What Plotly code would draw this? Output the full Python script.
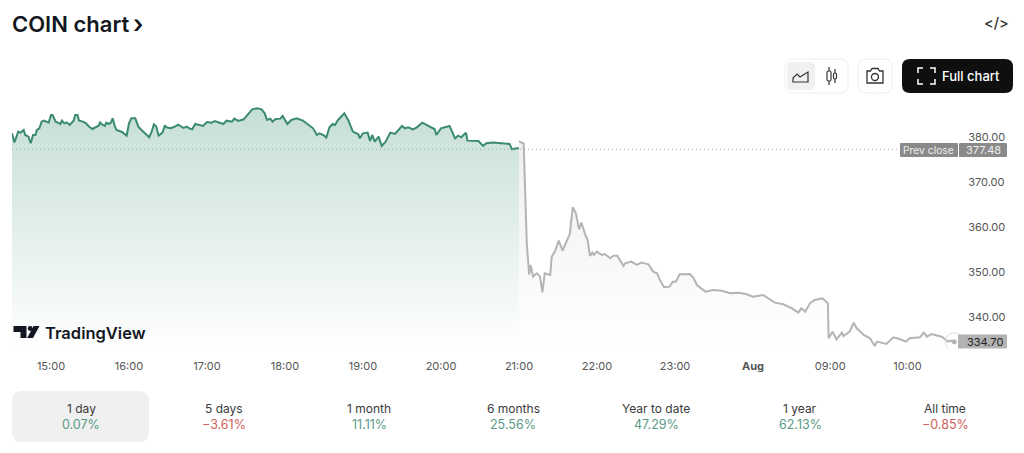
import plotly.graph_objects as go

# hours counted from midnight of the previous day (24 = Aug 1st 00:00 on the compressed axis)
session_hours = [14.50,14.53,14.55,14.58,14.61,14.65,14.67,14.71,14.74,14.77,14.80,14.82,14.85,14.88,14.91,14.97,15.00,15.02,15.06,15.12,15.14,15.17,15.20,15.24,15.29,15.31,15.34,15.36,15.41,15.45,15.48,15.53,15.61,15.63,15.65,15.69,15.71,15.74,15.77,15.79,15.82,15.84,15.91,15.97,16.00,16.03,16.08,16.12,16.16,16.21,16.26,16.29,16.32,16.35,16.38,16.43,16.46,16.48,16.53,16.57,16.63,16.70,16.74,16.78,16.81,16.85,16.91,16.95,17.00,17.06,17.10,17.17,17.21,17.25,17.32,17.35,17.40,17.47,17.53,17.58,17.64,17.70,17.74,17.77,17.81,17.84,17.88,17.94,17.97,18.03,18.08,18.15,18.23,18.30,18.36,18.41,18.44,18.49,18.53,18.57,18.61,18.64,18.68,18.76,18.81,18.87,18.94,18.96,19.00,19.06,19.09,19.12,19.15,19.20,19.24,19.29,19.35,19.41,19.50,19.54,19.58,19.64,19.69,19.76,19.82,19.92,19.94,20.00,20.11,20.18,20.22,20.26,20.32,20.34,20.48,20.54,20.58,20.67,20.88,20.91,20.97,21.00]
session_prices = [381.04,379.04,379.93,381.41,381.19,381.78,380.67,380.30,378.82,380.67,380.67,381.78,382.15,383.63,383.85,383.41,385.11,385.11,383.63,383.11,383.85,383.26,383.48,382.89,383.85,385.11,385.11,383.85,383.63,383.26,382.67,382.00,382.74,383.48,383.04,382.67,383.41,383.11,383.48,384.37,382.52,381.78,381.33,380.52,383.26,384.37,384.37,382.52,381.78,381.04,380.15,381.41,383.04,382.52,380.52,381.19,382.82,382.37,382.15,382.37,382.96,382.22,382.52,382.08,381.93,383.11,382.82,382.67,383.56,383.41,383.78,383.41,383.11,383.85,383.63,384.30,383.78,384.15,385.48,386.37,386.59,386.37,385.48,384.00,384.30,383.63,384.22,384.30,384.89,383.11,384.00,384.37,383.85,382.89,382.15,380.67,381.04,380.67,380.08,382.37,383.11,382.89,384.00,385.48,384.00,381.41,380.82,379.93,381.04,381.19,379.34,380.67,379.19,380.30,378.23,379.19,381.19,380.89,382.67,382.15,382.37,381.93,382.37,383.41,382.82,381.93,380.67,382.15,382.67,379.93,380.52,380.15,381.19,379.41,379.34,378.23,378.82,378.97,378.67,377.49,377.71,377.71]
after_hours = [21.00,21.03,21.06,21.08,21.10,21.13,21.15,21.18,21.23,21.27,21.30,21.33,21.40,21.42,21.46,21.51,21.56,21.59,21.65,21.69,21.73,21.77,21.80,21.85,21.88,21.91,21.94,21.96,22.00,22.06,22.10,22.17,22.21,22.26,22.34,22.36,22.44,22.51,22.57,22.66,22.72,22.77,22.81,22.86,22.93,22.97,23.01,23.06,23.19,23.24,23.28,23.39,23.49,23.60,23.71,23.82,23.92,24.00,24.13,24.28,24.39,24.50,24.58,24.62,24.67,24.73,24.79,24.89,24.96,24.97,25.02,25.07,25.14,25.16,25.24,25.29,25.33,25.42,25.50,25.56,25.59,25.71,25.80,25.88,25.96,26.01,26.14,26.19,26.23,26.29,26.42,26.50,26.54,26.58]
after_prices = [379.34,378.97,378.82,364.74,356.59,349.67,351.78,349.19,349.93,349.19,345.70,349.93,349.56,353.63,354.74,357.19,354.96,356.22,358.59,364.59,363.26,359.70,361.19,358.45,357.33,353.78,354.52,354.00,354.74,354.00,354.22,353.26,353.85,353.85,351.56,352.15,352.52,351.78,352.30,351.93,350.30,349.93,348.30,346.82,346.96,348.07,348.07,349.70,349.78,348.82,347.33,345.85,346.22,346.07,345.48,345.63,345.26,344.74,345.11,343.41,343.04,342.15,341.19,342.15,341.41,343.26,344.00,344.37,343.26,335.48,336.96,335.26,336.74,336.00,336.96,338.96,337.70,336.22,335.48,333.78,334.74,334.22,335.70,335.33,334.74,335.48,335.70,336.74,335.85,336.44,335.85,334.74,334.96,334.70]
prev_close = 377.48
last_price = 334.70
x_tick_vals = [15,16,17,18,19,20,21,22,23,24,24.99,25.98]
x_tick_text = ["15:00","16:00","17:00","18:00","19:00","20:00","21:00","22:00","23:00","<b>Aug</b>","09:00","10:00"]
y_tick_vals = [340,350,360,370,380]
y_tick_text = ["340.00","350.00","360.00","370.00","380.00"]
period_labels = ["1 day","5 days","1 month","6 months","Year to date","1 year","All time"]
period_values = ["0.07%","−3.61%","11.11%","25.56%","47.29%","62.13%","−0.85%"]

W, H = 1024, 453
FONT = "Inter"
GREEN_LINE = "#3b8a72"
GRAY_LINE = "#b4b4b4"
GREEN_TXT = "#5a9a86"
RED_TXT = "#d0605a"

def px(x): return x / W
def py(y): return 1 - y / H

def rrect(x0, y0, x1, y1, r):
    return (f"M{px(x0+r)},{py(y0)} L{px(x1-r)},{py(y0)} Q{px(x1)},{py(y0)} {px(x1)},{py(y0+r)} "
            f"L{px(x1)},{py(y1-r)} Q{px(x1)},{py(y1)} {px(x1-r)},{py(y1)} L{px(x0+r)},{py(y1)} "
            f"Q{px(x0)},{py(y1)} {px(x0)},{py(y1-r)} L{px(x0)},{py(y0+r)} Q{px(x0)},{py(y0)} {px(x0+r)},{py(y0)} Z")

def poly(points, close=False):
    s = " ".join(("M" if i == 0 else "L") + f"{px(a)},{py(b)}" for i, (a, b) in enumerate(points))
    return s + (" Z" if close else "")

shapes = []
def add(path, fill="rgba(0,0,0,0)", line="rgba(0,0,0,0)", width=0):
    shapes.append(dict(type="path", xref="paper", yref="paper", path=path, fillcolor=fill,
                       line=dict(color=line, width=width), layer="above"))

# toolbar boxes
add(rrect(785, 59, 848, 93, 8), "#ffffff", "#eeeeee", 1)
add(rrect(787, 62, 815, 90, 5), "#f0f0f0")
add(rrect(858, 59, 892, 93, 8), "#ffffff", "#eeeeee", 1)
add(rrect(902, 59, 1013, 93, 8), "#0f0f0f")
# area icon
add(poly([(793, 82), (808, 82), (808, 72), (800, 77), (797, 74), (793, 78)], True), "rgba(0,0,0,0)", "#333333", 1.2)
# candle icon
add(poly([(829, 67), (829, 85)]), line="#333333", width=1.2)
add(poly([(835, 69), (835, 83)]), line="#333333", width=1.2)
add(rrect(827, 71, 831, 81, 1.5), "#ffffff", "#333333", 1.2)
add(rrect(833.5, 73, 836.5, 79, 1.2), "#ffffff", "#333333", 1.2)
# camera icon
add(poly([(867, 71), (870.5, 71), (872, 68.5), (878, 68.5), (879.5, 71), (883, 71), (883, 83), (867, 83)], True), line="#333333", width=1.3)
shapes.append(dict(type="circle", xref="paper", yref="paper", x0=px(871.5), x1=px(878.5), y0=py(80.5), y1=py(73.5),
                   line=dict(color="#333333", width=1.3), layer="above"))
# full-chart icon corners
for a, b, c in [((918, 73), (918, 68), (923, 68)), ((930, 68), (935, 68), (935, 73)),
                ((918, 79), (918, 84), (923, 84)), ((930, 84), (935, 84), (935, 79))]:
    add(poly([a, b, c]), line="#ffffff", width=1.5)
# selected period tab
add(rrect(12, 391, 149, 442, 10), "#f0f0f0")
# TradingView logo
add(poly([(13.5, 326), (26.5, 326), (26.5, 338), (20.5, 338), (20.5, 332), (13.5, 332)], True), "#131722")
shapes.append(dict(type="circle", xref="paper", yref="paper", x0=px(27.8), x1=px(32.6), y0=py(330.9), y1=py(326.1),
                   fillcolor="#131722", line=dict(width=0), layer="above"))
add(poly([(33.5, 326), (39.5, 326), (33, 338), (27.2, 338)], True), "#131722")
# prev close
shapes.append(dict(type="line", xref="paper", yref="y", x0=px(12), x1=px(900), y0=prev_close, y1=prev_close,
                   line=dict(color="#a8a8a8", width=1, dash="1px,3px"), layer="above"))

annotations = []
def text(x, y, s, size=12, color="#333333", weight=400, anchor="center", **kw):
    dx = -2 if anchor == "left" else 0
    annotations.append(dict(xref="paper", yref="paper", x=px(x + dx), y=py(y), text=s, showarrow=False,
                            xanchor=anchor, yanchor="middle",
                            font=dict(family=FONT, size=size, color=color, weight=weight), **kw))

text(12, 24, "COIN chart", 22, "#131722", 600, "left")
text(133, 24.5, "›", 25, "#131722", 600, "left")
text(996, 22, "&lt;/&gt;", 14.5, "#333333", 500)
text(971, 76, "Full chart", 13, "#ffffff", 500)
text(45, 333, "TradingView", 16.5, "#131722", 600, "left")
period_x = [81, 224, 369, 513, 656, 800, 945]
for xc, lab, val in zip(period_x, period_labels, period_values):
    text(xc, 408.5, lab, 12, "#3a3a3a", 400)
    text(xc, 424, val, 12.5, RED_TXT if val.startswith("−") else GREEN_TXT, 400)

# price tags
add(rrect(900, 143, 958, 157, 1), "#8a8a8a")
add(rrect(959, 143, 1007, 157, 1), "#8a8a8a")
add(rrect(958, 334.5, 1007, 348.5, 1), "#b2b2b2")
text(928.5, 150, "Prev close", 10.3, "#eeeeee")
text(983, 150, f"{prev_close:.2f}", 11, "#eeeeee")
text(985, 341.5, f"{last_price:.2f}", 11, "#222222")

y_bottom, y_top = 333.33, 388.44

fig = go.Figure()
fig.add_trace(go.Scatter(x=session_hours, y=session_prices, mode="lines", fill="tozeroy",
                         line=dict(color=GREEN_LINE, width=2),
                         fillgradient=dict(type="vertical", start=y_bottom, stop=386,
                                           colorscale=[[0, "#ffffff"], [1, "#c6dfd6"]])))
fig.add_trace(go.Scatter(x=after_hours, y=after_prices, mode="lines", fill="tozeroy",
                         line=dict(color=GRAY_LINE, width=2),
                         fillgradient=dict(type="vertical", start=y_bottom, stop=380,
                                           colorscale=[[0, "#ffffff"], [1, "#efefef"]])))
fig.add_trace(go.Scatter(x=[after_hours[-1]], y=[last_price], mode="markers",
                         marker=dict(size=18, color="rgba(0,0,0,0)", line=dict(color="#dddddd", width=1))))
fig.add_trace(go.Scatter(x=[after_hours[-1]], y=[last_price], mode="markers",
                         marker=dict(size=5, color="#b4b4b4")))

fig.update_layout(
    width=W, height=H, margin=dict(l=0, r=0, t=0, b=0), showlegend=False,
    paper_bgcolor="#ffffff", plot_bgcolor="#ffffff", hovermode=False,
    font=dict(family=FONT, size=11, color="#555555"),
    shapes=shapes, annotations=annotations,
    xaxis=dict(domain=[px(12), px(960)], range=[14.5, 26.654], tickmode="array",
               tickvals=x_tick_vals, ticktext=x_tick_text, showgrid=False, zeroline=False,
               showline=False, ticks="outside", ticklen=8, tickcolor="rgba(0,0,0,0)",
               tickfont=dict(family=FONT, size=11, color="#555555")),
    yaxis=dict(domain=[py(348), py(100)], range=[y_bottom, y_top], side="right", anchor="x",
               tickmode="array", tickvals=y_tick_vals, ticktext=y_tick_text, showgrid=False,
               zeroline=False, showline=False, ticks="outside", ticklen=5, tickcolor="rgba(0,0,0,0)",
               ticklabelshift=-1,
               tickfont=dict(family=FONT, size=11, color="#555555")),
)
fig.write_html("out.html", config={"displayModeBar": False},
               post_script="document.body.style.margin='0';document.body.style.overflow='hidden';")
